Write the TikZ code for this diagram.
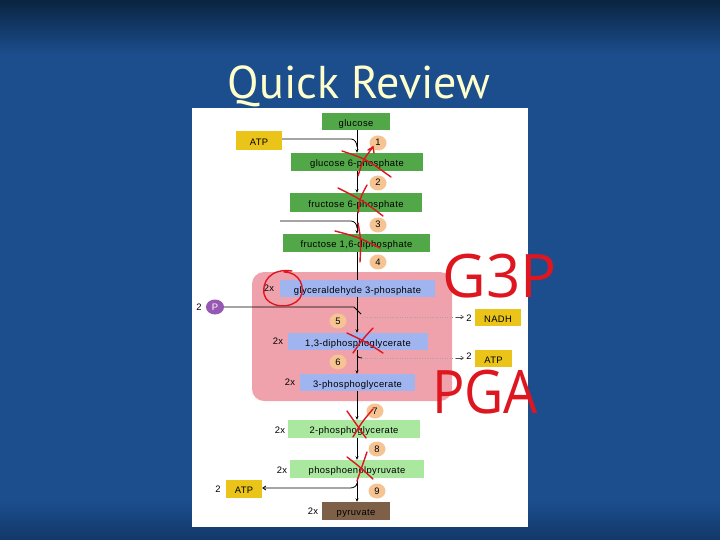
\documentclass[tikz,border=0pt]{standalone}
\usepackage{fontspec}
\setmainfont{Liberation Sans}
\newfontfamily\titlefont{PT Sans}
\newfontfamily\boxfontfam[LetterSpace=4]{Liberation Sans}
\newfontfamily\handfont{Open Sans}
\usetikzlibrary{arrows.meta,shapes.geometric}
\definecolor{bgtop}{RGB}{10,36,64}
\definecolor{bgmid}{RGB}{28,78,142}
\definecolor{bgbot}{RGB}{18,56,104}
\definecolor{titlecol}{RGB}{255,255,204}
\definecolor{gdark}{RGB}{82,168,72}
\definecolor{glight}{RGB}{170,232,160}
\definecolor{bluebox}{RGB}{160,180,240}
\definecolor{pinkbox}{RGB}{240,162,172}
\definecolor{peach}{RGB}{245,196,146}
\definecolor{yellowbox}{RGB}{234,196,24}
\definecolor{purplec}{RGB}{150,88,178}
\definecolor{brownbox}{RGB}{126,96,72}
\definecolor{handred}{RGB}{222,22,32}
\newcommand{\boxfont}{\boxfontfam\fontsize{9.4}{10}\selectfont}
\begin{document}
\begin{tikzpicture}[x=1pt,y=-1pt,
  box/.style={inner sep=0pt, font=\boxfont, text=black, text height=9.5pt, text depth=0pt},
  num/.style={ellipse, fill=peach, minimum width=17pt, minimum height=15pt, inner sep=0pt, font=\boxfont, text=black, text height=6.6pt, text depth=0.6pt},
  lbl/.style={inner sep=0pt, font=\boxfont, text=black},
  flow/.style={draw=black, line width=0.8pt, -{Stealth[length=3.5pt,width=3pt]}},
  plain/.style={draw=black, line width=0.8pt},
  side/.style={draw=gray!70, line width=0.5pt, dotted},
  redmark/.style={draw=handred, line width=1.4pt, line cap=round},
  hand/.style={text=handred, inner sep=0pt, font=\handfont\fontsize{60}{60}\selectfont}
]
\useasboundingbox (0,0) rectangle (720,540);
\fill[bgmid] (0,0) rectangle (720,540);
\shade[top color=bgtop, bottom color=bgmid] (0,0) rectangle (720,55);
\shade[top color=bgmid, bottom color=bgbot] (0,500) rectangle (720,540);
\node[text=titlecol, inner sep=0pt, font=\titlefont\fontsize{46}{46}\selectfont] (title) at (359,86) {Quick Review};
\fill[white] (192,108) rectangle (528,527);
\coordinate (m) at (357,0);
% pink region
\fill[pinkbox, rounded corners=12pt] (252,272) rectangle (452,401);
% boxes
\node[box, fill=gdark, minimum width=68pt, minimum height=17pt] (glc) at (356,121.5) {glucose};
\node[box, fill=yellowbox, minimum width=46pt, minimum height=19pt] (atp1) at (259,140.5) {ATP};
\node[num] (n1) at (378,143) {1};
\node[box, fill=gdark, minimum width=132pt, minimum height=18pt] (g6p) at (357,162) {glucose 6-phosphate};
\node[num] (n2) at (378,183) {2};
\node[box, fill=gdark, minimum width=132pt, minimum height=19pt] (f6p) at (356,202.5) {fructose 6-phosphate};
\node[num] (n3) at (378,225) {3};
\node[box, fill=gdark, minimum width=147pt, minimum height=18pt] (f16) at (356.5,243) {fructose 1,6-diphosphate};
\node[num] (n4) at (378,262) {4};
\node[lbl] (x2a) at (269,288) {2x};
\node[box, fill=bluebox, minimum width=155pt, minimum height=17pt] (gap) at (357.5,288.5) {glyceraldehyde 3-phosphate};
\node[lbl] (two1) at (199,307) {2};
\node[ellipse, fill=purplec, minimum width=18pt, minimum height=15pt, inner sep=0pt, font=\boxfont, text=white, text height=6.6pt, text depth=0.6pt] (pc) at (215,307) {P};
\node[num] (n5) at (338,321) {5};
\node[box, fill=yellowbox, minimum width=46pt, minimum height=17pt] (nadh) at (498,317.5) {NADH};
\node[lbl] (two2) at (469,318) {2};
\node[lbl] (x2b) at (278,341) {2x};
\node[box, fill=bluebox, minimum width=140pt, minimum height=17pt] (dpg) at (358,341.5) {1,3-diphosphoglycerate};
\node[num] (n6) at (338,362) {6};
\node[box, fill=yellowbox, minimum width=37pt, minimum height=17pt] (atp2) at (493.5,358.5) {ATP};
\node[lbl] (two3) at (469,356) {2};
\node[lbl] (x2c) at (290,382) {2x};
\node[box, fill=bluebox, minimum width=115pt, minimum height=17pt] (pg3) at (357.5,382.5) {3-phosphoglycerate};
\node[num] (n7) at (375,411) {7};
\node[lbl] (x2d) at (280,430) {2x};
\node[box, fill=glight, minimum width=132pt, minimum height=18pt] (pg2) at (354,429) {2-phosphoglycerate};
\node[num] (n8) at (377,449) {8};
\node[lbl] (x2e) at (282,470) {2x};
\node[box, fill=glight, minimum width=134pt, minimum height=18pt] (pep) at (357,469) {phosphoenolpyruvate};
\node[num] (n9) at (377,491) {9};
\node[box, fill=yellowbox, minimum width=36pt, minimum height=18pt] (atp3) at (244,489) {ATP};
\node[lbl] (two4) at (218,489) {2};
\node[lbl] (x2f) at (313,511) {2x};
\node[box, fill=brownbox, minimum width=68pt, minimum height=18pt] (pyr) at (356,511) {pyruvate};
% main flow
\draw[flow] (glc.south -| m) -- (g6p.north -| m);
\draw[flow] (g6p.south -| m) -- (f6p.north -| m);
\draw[flow] (f6p.south -| m) -- (f16.north -| m);
\draw[plain] (f16.south -| m) -- (gap.north -| m);
\draw[flow] (gap.south -| m) -- (dpg.north -| m);
\draw[flow] (dpg.south -| m) -- (pg3.north -| m);
\draw[flow] (pg3.south -| m) -- (pg2.north -| m);
\draw[flow] (pg2.south -| m) -- (pep.north -| m);
\draw[flow] (pep.south -| m) -- (pyr.north -| m);
% side inputs / outputs
\coordinate (j1) at (357,147);
\draw[plain] (atp1.east |- 0,139) -- (351,139) to[out=0,in=90] (j1);
\coordinate (s3) at (280,221);
\coordinate (j3) at (357,228);
\draw[plain] (s3) -- (351,221) to[out=0,in=90] (j3);
\coordinate (j5) at (361,314);
\draw[plain] (pc.east) -- (354,307) -- (j5);
\coordinate (o5) at (362,317);
\draw[side] (o5) -- (463,317);
\draw[draw=black!70, line width=0.5pt, -{Straight Barb[length=3pt,width=4pt]}] (456,317) -- (464,317);
\coordinate (j6) at (357,355);
\coordinate (o6) at (362,358);
\draw[plain] (j6) to[out=-90,in=180] (o6);
\draw[side] (o6) -- (463,358);
\draw[draw=black!70, line width=0.5pt, -{Straight Barb[length=3pt,width=4pt]}] (456,358) -- (464,358);
\coordinate (j9) at (357,483);
\draw[plain, -{Straight Barb[length=3pt,width=4pt]}] (j9) to[out=-90,in=0] (350,488) -- (atp3.east |- 0,488);
% hand annotations
\draw[redmark] (342,151) .. controls (366,159) .. (391,177);
\draw[redmark] (358,176) .. controls (363,160) .. (373,147);
\draw[redmark] (368,150) -- (373,147) -- (374,153);
\draw[redmark] (338,188) .. controls (362,200) .. (383,216);
\draw[redmark] (367,185) .. controls (360,198) .. (358,213);
\draw[redmark] (335,231) .. controls (358,237) .. (380,248);
\draw[redmark] (358,223) .. controls (361,240) .. (360,262);
\draw[redmark] (292,271) .. controls (270,268) and (262,282) .. (264,294) .. controls (267,308) and (292,310) .. (300,298) .. controls (306,288) and (300,272) .. (284,272);
\draw[redmark] (347,333) .. controls (366,342) .. (383,353);
\draw[redmark] (373,328) .. controls (362,340) .. (353,353);
\draw[redmark] (347,411) .. controls (357,424) .. (366,438);
\draw[redmark] (373,409) .. controls (362,422) .. (353,437);
\draw[redmark] (347,457) .. controls (360,467) .. (373,479);
\draw[redmark] (367,452) .. controls (362,466) .. (357,481);
\node[hand] (g3p) at (500,276) {G3P};
\node[hand, xscale=0.9] (pga) at (485,392) {PGA};
\end{tikzpicture}
\end{document}
